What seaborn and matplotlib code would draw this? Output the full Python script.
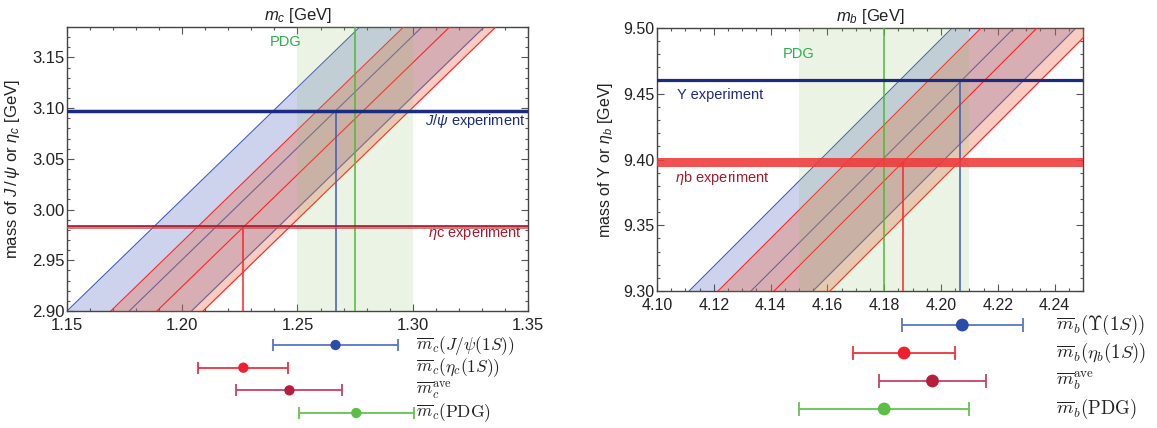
import numpy as np
import pandas as pd
import matplotlib
matplotlib.use("Agg")
import matplotlib.pyplot as plt
from matplotlib.ticker import MultipleLocator, FormatStrFormatter
import seaborn as sns

# ---------------- data ----------------
# charm panel
c_xlim = (1.15, 1.35)
c_ylim = (2.90, 3.18)
jpsi_exp = 3.0969
etac_exp = 2.9836
etac_band = (2.9810, 2.9840)
c_pdg_band = (1.25, 1.30)
c_pdg_center = 1.275
# band lines: x at y=2.90 and at y=3.18 (left edge, centre, right edge)
jpsi_band_bottom = [1.150, 1.177, 1.204]
jpsi_band_top = [1.277, 1.304, 1.331]
etac_band_bottom = [1.169, 1.189, 1.209]
etac_band_top = [1.296, 1.316, 1.336]
mc_jpsi_center = 1.2665
mc_etac_center = 1.2265

mc_labels = [r"$\overline{m}_c(J/\psi(1S))$", r"$\overline{m}_c(\eta_c(1S))$",
             r"$\overline{m}_c^{\rm ave}$", r"$\overline{m}_c(\rm PDG)$"]
mc_vals = [1.2665, 1.2265, 1.2465, 1.2755]
mc_errs = [0.027, 0.0195, 0.023, 0.025]

# bottom panel
b_xlim = (4.10, 4.25)
b_ylim = (9.30, 9.50)
ups_exp = 9.4603
etab_band = (9.3945, 9.4012)
etab_exp = 9.398
b_pdg_band = (4.15, 4.21)
b_pdg_center = 4.18
ups_band_bottom = [4.1113, 4.1331, 4.1549]
ups_band_top = [4.2039, 4.2257, 4.2475]
etab_band_bottom = [4.1215, 4.1412, 4.1609]
etab_band_top = [4.2141, 4.2338, 4.2535]
mb_ups_center = 4.2067
mb_etab_center = 4.1866

mb_labels = [r"$\overline{m}_b(\Upsilon(1S))$", r"$\overline{m}_b(\eta_b(1S))$",
             r"$\overline{m}_b^{\rm ave}$", r"$\overline{m}_b(\rm PDG)$"]
mb_vals = [4.2075, 4.187, 4.197, 4.180]
mb_errs = [0.0212, 0.018, 0.019, 0.030]

row_pos = [0, 1, 2, 3]
dot_colors = ["#2a4ea8", "#ee2030", "#b81e3c", "#5cbf45"]
bar_colors = ["#5676c2", "#ee3040", "#c84262", "#66c250"]

# ---------------- style ----------------
sns.set_theme(style="ticks")
plt.rcParams.update({
    "font.family": ["Liberation Sans", "DejaVu Sans"],
    "mathtext.fontset": "custom",
    "mathtext.rm": "Liberation Sans",
    "mathtext.it": "Liberation Sans:italic",
    "mathtext.bf": "Liberation Sans:bold",
    "mathtext.sf": "Liberation Sans",
})

NAVY = "#1c2a80"
DRED = "#a8182a"
GREEN_TXT = "#2bb04a"
BLUE_LINE = "#3a5cc0"
RED_LINE = "#ff2424"
BLUE_FILL = "#3a4fb8"
RED_FILL = "#ea6740"
GREEN_FILL = "#8cc063"

fig = plt.figure(figsize=(11.57, 4.28), dpi=100)
W, H = 1157, 428


def rect(x0, y0, x1, y1):
    return [x0 / W, 1 - y1 / H, (x1 - x0) / W, (y1 - y0) / H]


axc = fig.add_axes(rect(67, 27, 528, 311))
axb = fig.add_axes(rect(657, 28, 1083, 291))
axc_e = fig.add_axes(rect(67, 333, 528, 425))
axb_e = fig.add_axes(rect(657, 313, 1083, 421))


def draw_band(ax, bottom, top, ylim, fill, line, zf, zl):
    y0, y1 = ylim
    ax.fill_betweenx([y0, y1], [bottom[0], top[0]], [bottom[2], top[2]],
                     color=fill, alpha=0.25 if fill == BLUE_FILL else 0.33,
                     lw=0, zorder=zf)
    rows = []
    for i in range(3):
        rows.append({"x": bottom[i], "y": y0, "line": i})
        rows.append({"x": top[i], "y": y1, "line": i})
    df = pd.DataFrame(rows)
    sns.lineplot(data=df, x="x", y="y", units="line", estimator=None,
                 color=line, lw=0.8, ax=ax, zorder=zl, sort=False)


def style_main(ax, xlim, ylim, xmaj, xmin, ymaj, ymin, fs):
    ax.set_xlim(*xlim)
    ax.set_ylim(*ylim)
    ax.xaxis.set_major_locator(MultipleLocator(xmaj))
    ax.xaxis.set_minor_locator(MultipleLocator(xmin))
    ax.yaxis.set_major_locator(MultipleLocator(ymaj))
    ax.yaxis.set_minor_locator(MultipleLocator(ymin))
    ax.xaxis.set_major_formatter(FormatStrFormatter("%.2f"))
    ax.yaxis.set_major_formatter(FormatStrFormatter("%.2f"))
    ax.tick_params(which="both", direction="in", top=True, right=True,
                   color="#555555", labelcolor="#222222", labelsize=fs, width=0.8)
    ax.tick_params(which="major", length=5)
    ax.tick_params(axis="x", which="major", pad=5)
    ax.tick_params(axis="y", which="major", pad=2)
    ax.tick_params(which="minor", length=2.5)
    for s in ax.spines.values():
        s.set_color("#444444")
        s.set_linewidth(1.0)
    ax.set_xlabel("")


# ---------- charm panel ----------
draw_band(axc, jpsi_band_bottom, jpsi_band_top, c_ylim, BLUE_FILL, BLUE_LINE, 1, 2)
draw_band(axc, etac_band_bottom, etac_band_top, c_ylim, RED_FILL, RED_LINE, 3, 4)
axc.axvspan(*c_pdg_band, color=GREEN_FILL, alpha=0.17, lw=0, zorder=5)
axc.axvline(c_pdg_center, color="#4cba34", lw=1.1, zorder=6)
axc.vlines(mc_jpsi_center, c_ylim[0], jpsi_exp, color=BLUE_LINE, lw=1.1, zorder=6)
axc.vlines(mc_etac_center, c_ylim[0], etac_exp, color=RED_LINE, lw=1.1, zorder=6)
axc.axhline(jpsi_exp, color=NAVY, lw=2.5, zorder=7)
axc.axhspan(*etac_band, color="#c8505a", alpha=0.75, lw=0, zorder=7)
axc.axhline(etac_exp + 0.0004, color=DRED, lw=1.2, zorder=7)
style_main(axc, c_xlim, c_ylim, 0.05, 0.01, 0.05, 0.01, 12)
axc.set_ylabel(r"mass of $J\,/\,\psi$ or $\eta_c$ [GeV]", fontsize=12,
               color="#222222", labelpad=7)
axc.set_title(r"$m_c$ [GeV]", fontsize=12, color="#222222", pad=5)
axc.text(1.2448, 3.1657, "PDG", color=GREEN_TXT, fontsize=10.5,
         ha="center", va="center", zorder=8)
axc.text(1.3055, 3.0875, r"$J/\psi$ experiment", color=NAVY, fontsize=10.5,
         ha="left", va="center", zorder=8)
axc.text(1.3068, 2.9765, r"$\eta$c experiment", color=DRED, fontsize=10.5,
         ha="left", va="center", zorder=8)

# ---------- bottom panel ----------
draw_band(axb, ups_band_bottom, ups_band_top, b_ylim, BLUE_FILL, BLUE_LINE, 1, 2)
draw_band(axb, etab_band_bottom, etab_band_top, b_ylim, RED_FILL, RED_LINE, 3, 4)
axb.axvspan(*b_pdg_band, color=GREEN_FILL, alpha=0.17, lw=0, zorder=5)
axb.axvline(b_pdg_center, color="#4cba34", lw=1.1, zorder=6)
axb.vlines(mb_ups_center, b_ylim[0], ups_exp, color=BLUE_LINE, lw=1.1, zorder=6)
axb.vlines(mb_etab_center, b_ylim[0], etab_exp, color=RED_LINE, lw=1.1, zorder=6)
axb.axhline(ups_exp, color=NAVY, lw=2.3, zorder=7)
axb.axhspan(*etab_band, color="#ee3a3a", alpha=0.88, lw=0, zorder=7)
style_main(axb, b_xlim, b_ylim, 0.02, 0.005, 0.05, 0.01, 11.5)
axb.set_ylabel(r"mass of Υ or $\eta_b$ [GeV]", fontsize=11.5,
               color="#222222", labelpad=6)
axb.set_title(r"$m_b$ [GeV]", fontsize=12, color="#222222", pad=5)
axb.text(4.1497, 9.4805, "PDG", color=GREEN_TXT, fontsize=10.5,
         ha="center", va="center", zorder=8)
axb.text(4.1070, 9.4490, "Υ experiment", color=NAVY, fontsize=10.5,
         ha="left", va="center", zorder=8)
axb.text(4.1063, 9.3860, r"$\eta$b experiment", color=DRED, fontsize=10.5,
         ha="left", va="center", zorder=8)


# ---------- error-bar strips ----------
def strip(ax, vals, errs, labels, xlim, ylim, s, cap, lab_x, lab_fs):
    for v, e, r, c in zip(vals, errs, row_pos, bar_colors):
        ax.errorbar(v, r, xerr=e, fmt="none", ecolor=c, elinewidth=1.3,
                    capsize=cap, capthick=1.3, zorder=2)
    sns.scatterplot(x=vals, y=row_pos, hue=labels, palette=dot_colors, s=s,
                    edgecolor="none", legend=False, ax=ax, zorder=3)
    for r, lab in zip(row_pos, labels):
        t = ax.text(lab_x, r, lab, fontsize=lab_fs, ha="left", va="center",
                    color="#222222")
        t.set_math_fontfamily("cm")
    ax.set_xlim(*xlim)
    ax.set_ylim(*ylim)
    ax.axis("off")
    ax.patch.set_alpha(0)


strip(axc_e, mc_vals, mc_errs, mc_labels, c_xlim, (3.53, -0.53), 55, 4.3, 1.3015, 12.5)
strip(axb_e, mb_vals, mb_errs, mb_labels, b_xlim, (3.43, -0.43), 85, 4.8, 4.2405, 13.5)

fig.savefig("out.png", dpi=100)
